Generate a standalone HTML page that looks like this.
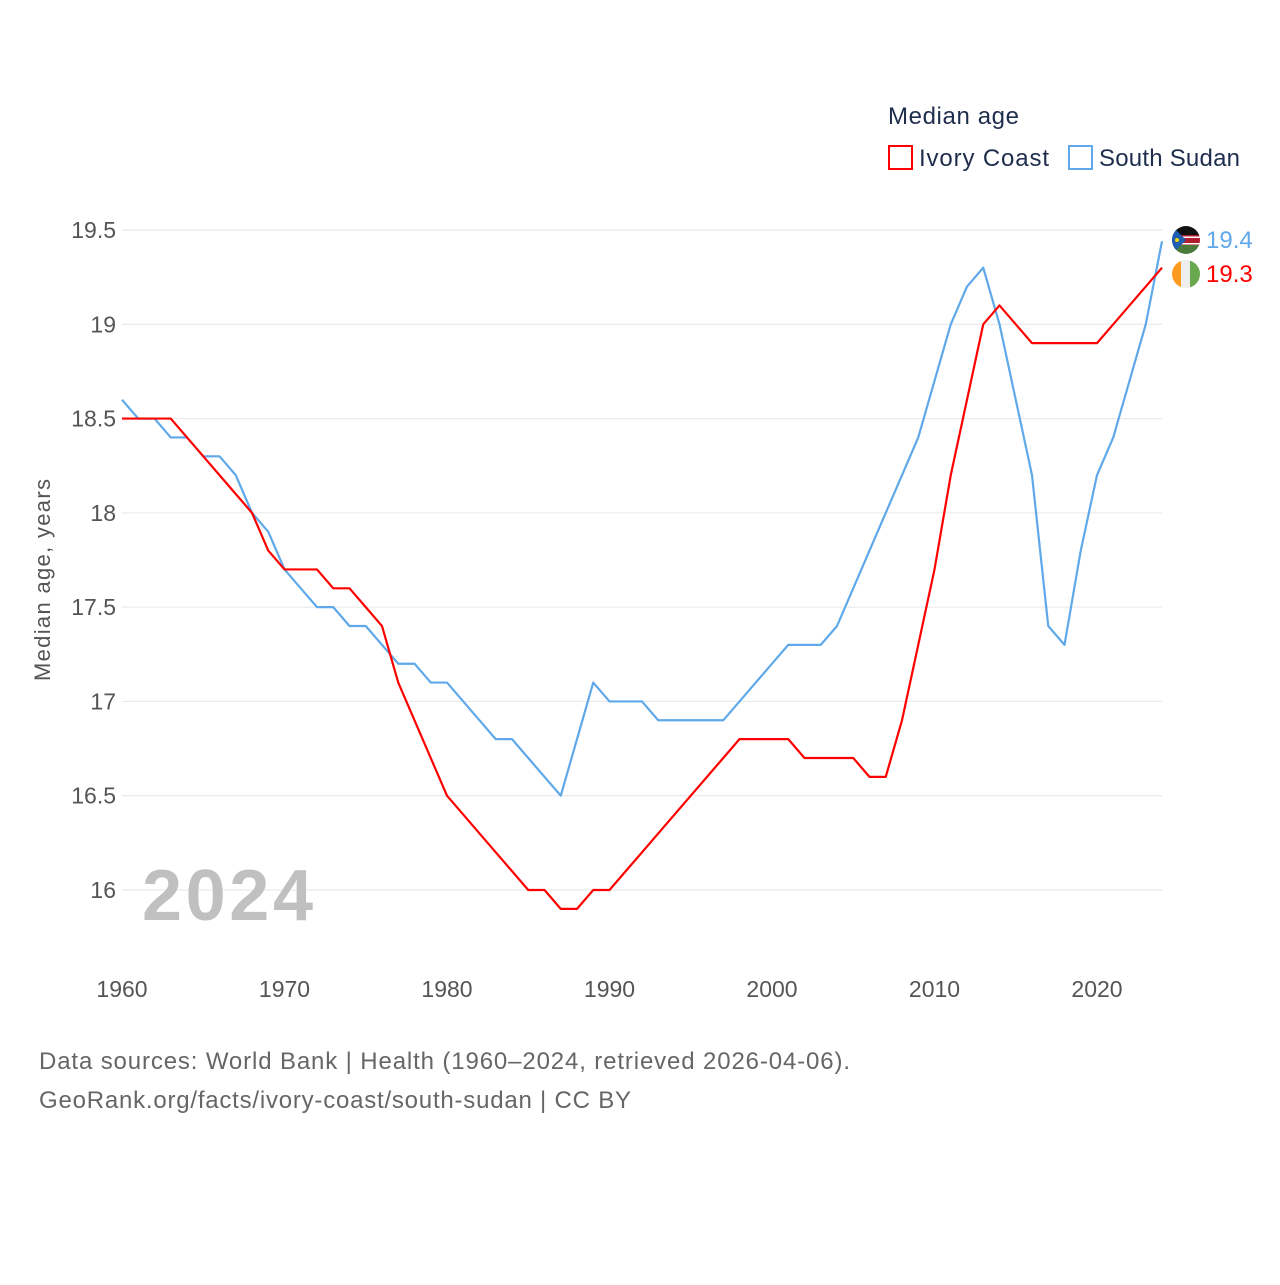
<!DOCTYPE html>
<html><head><meta charset="utf-8"><style>
body{margin:0;background:#fff;font-family:"Liberation Sans",sans-serif}
</style></head><body>
<svg id="chart" width="1280" height="1280" xmlns="http://www.w3.org/2000/svg" font-family="Liberation Sans, sans-serif">
<text x="888" y="124" font-size="24" fill="#1f2d4d" textLength="131">Median age</text>
<g><rect x="889" y="146" width="23" height="23" fill="none" stroke="#ff0000" stroke-width="2"/><text x="919" y="166" font-size="24" fill="#1f2d4d" textLength="130">Ivory Coast</text></g>
<g><rect x="1069" y="146" width="23" height="23" fill="none" stroke="#5fa8ea" stroke-width="2"/><text x="1099" y="166" font-size="24" fill="#1f2d4d" textLength="141">South Sudan</text></g>
<g id="grid"></g><g id="xt"></g>
<text transform="translate(50,580) rotate(-90)" text-anchor="middle" font-size="22" fill="#555" textLength="202">Median age, years</text>
<text x="142" y="920" font-size="72" font-weight="bold" fill="#c0c0c0" textLength="171">2024</text>
<g id="lines"></g>
<g>
<clipPath id="c1"><circle cx="1186" cy="240" r="14"/></clipPath>
<g clip-path="url(#c1)"><rect x="1172" y="226" width="28" height="9" fill="#111"/><rect x="1172" y="235" width="28" height="10" fill="#b01c2e"/><rect x="1172" y="236.5" width="28" height="1.5" fill="#fff"/><rect x="1172" y="243" width="28" height="1.5" fill="#fff"/><rect x="1172" y="245" width="28" height="9" fill="#4b7a3a"/><polygon points="1172,226 1186,240 1172,254" fill="#1e5fb4"/><circle cx="1177" cy="240" r="2" fill="#f5d400"/></g></g>
<g>
<clipPath id="c2"><circle cx="1186" cy="274" r="14"/></clipPath>
<g clip-path="url(#c2)"><rect x="1172" y="260" width="10" height="28" fill="#ff9a1f"/><rect x="1181" y="260" width="10" height="28" fill="#eee"/><rect x="1190" y="260" width="10" height="28" fill="#6aa84f"/></g></g>
<text x="1206" y="248" font-size="24" fill="#5fa8ea">19.4</text>
<text x="1206" y="282" font-size="24" fill="#ff0000">19.3</text>
<text x="39" y="1069" font-size="24" fill="#666" textLength="811">Data sources: World Bank | Health (1960–2024, retrieved 2026-04-06).</text>
<text x="39" y="1108" font-size="24" fill="#666" textLength="592">GeoRank.org/facts/ivory-coast/south-sudan | CC BY</text>
</svg>
<script>
const years=[];for(let y=1960;y<=2024;y++)years.push(y);
const ivoryCoast=[18.5,18.5,18.5,18.5,18.4,18.3,18.2,18.1,18.0,17.8,17.7,17.7,17.7,17.6,17.6,17.5,17.4,17.1,16.9,16.7,16.5,16.4,16.3,16.2,16.1,16.0,16.0,15.9,15.9,16.0,16.0,16.1,16.2,16.3,16.4,16.5,16.6,16.7,16.8,16.8,16.8,16.8,16.7,16.7,16.7,16.7,16.6,16.6,16.9,17.3,17.7,18.2,18.6,19.0,19.1,19.0,18.9,18.9,18.9,18.9,18.9,19.0,19.1,19.2,19.3];
const southSudan=[18.6,18.5,18.5,18.4,18.4,18.3,18.3,18.2,18.0,17.9,17.7,17.6,17.5,17.5,17.4,17.4,17.3,17.2,17.2,17.1,17.1,17.0,16.9,16.8,16.8,16.7,16.6,16.5,16.8,17.1,17.0,17.0,17.0,16.9,16.9,16.9,16.9,16.9,17.0,17.1,17.2,17.3,17.3,17.3,17.4,17.6,17.8,18.0,18.2,18.4,18.7,19.0,19.2,19.3,19.0,18.6,18.2,17.4,17.3,17.8,18.2,18.4,18.7,19.0,19.44];
const yTicks=[16,16.5,17,17.5,18,18.5,19,19.5];
const yTickLabels=["16","16.5","17","17.5","18","18.5","19","19.5"];
const xTicks=[1960,1970,1980,1990,2000,2010,2020];
const NS="http://www.w3.org/2000/svg";
const xs=y=>122+(y-1960)*16.25;
const ys=v=>890-(v-16)*188.57;
function mk(t,a,p){const e=document.createElementNS(NS,t);for(const k in a)e.setAttribute(k,a[k]);p.appendChild(e);return e;}
const g=document.getElementById('grid');
yTicks.forEach((v,i)=>{
 const l=mk('line',{x1:122,x2:1162,y1:ys(v),y2:ys(v),stroke:'#e6e6e6'},g);
 
 
 const t=mk('text',{x:116,y:ys(v)+8,'text-anchor':'end','font-size':23,fill:'#555'},g);
 
 
 t.textContent=yTickLabels[i];
});
const xt=document.getElementById('xt');
xTicks.forEach(y=>{
 const t=mk('text',{x:xs(y),y:997,'text-anchor':'middle','font-size':23,fill:'#555'},xt);
 
 
 t.textContent=y;
});
const L=document.getElementById('lines');
function line(d,c,n){
 const p=mk('polyline',{points:d.map((v,i)=>xs(years[i])+','+ys(v)).join(' '),fill:'none',stroke:c,'stroke-width':2.2,'stroke-linejoin':'round'},L);
 
 
}
line(southSudan,'#5fa8ea','line-south-sudan');
line(ivoryCoast,'#ff0000','line-ivory-coast');
</script>
</body></html>
